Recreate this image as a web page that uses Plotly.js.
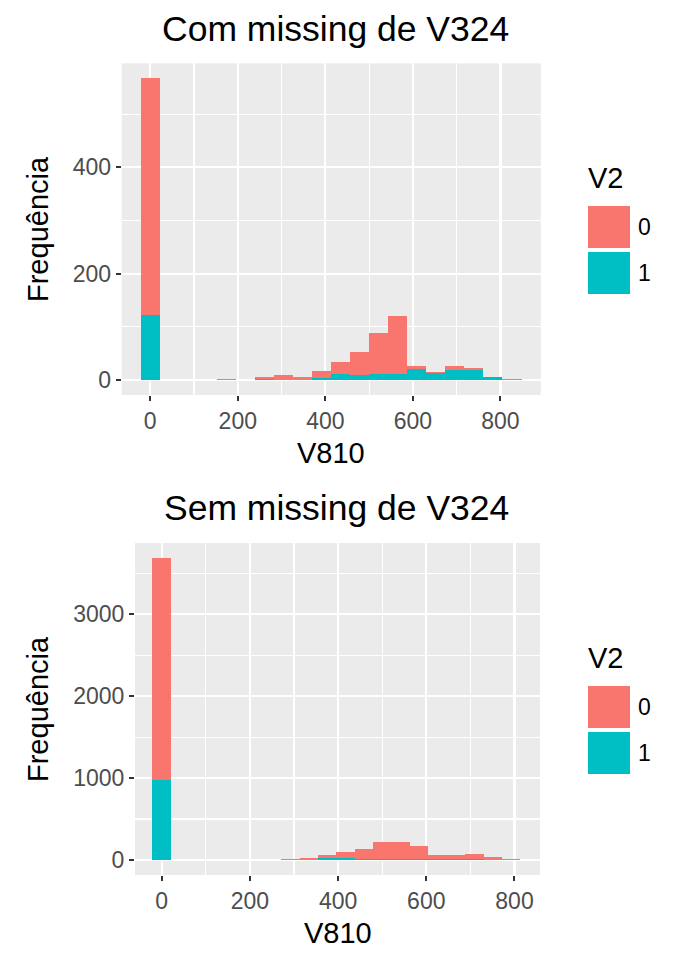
<!DOCTYPE html>
<html>
<head>
<meta charset="utf-8">
<script src="https://cdn.plot.ly/plotly-3.0.1.min.js"></script>
<style>
  html, body { margin: 0; padding: 0; background: #fff; }
  #plot { width: 676px; height: 960px; }
</style>
</head>
<body>
<div id="plot"></div>
<script>
// histogram bins of V810 (centres) and counts per V2 group
const binsTop = [0, 43.5, 87, 130.5, 174, 217.5, 261, 304.5, 348, 391.5, 435, 478.5, 522, 565.5, 609, 652.5, 696, 739.5, 783, 826.5];
const widthTop = 43.5;
const top0 = [444, 0, 0, 0, 1, 0, 3, 9, 6, 13, 23, 43, 77, 109, 5, 2, 7, 3, 0, 1];
const top1 = [123, 0, 0, 0, 0, 0, 2, 0, 0, 4, 11, 9, 11, 11, 21, 13, 19, 19, 5, 0];

const binsBottom = [0, 41.7, 83.4, 125.1, 166.8, 208.5, 250.2, 291.9, 333.6, 375.3, 417, 458.7, 500.4, 542.1, 583.8, 625.5, 667.2, 708.9, 750.6, 792.3];
const widthBottom = 41.7;
const bottom0 = [2711, 0, 0, 0, 5, 3, 2, 13, 21, 35, 62, 116, 206, 206, 157, 49, 49, 65, 28, 8];
const bottom1 = [976, 0, 0, 0, 0, 2, 3, 3, 5, 20, 30, 12, 12, 12, 10, 8, 8, 8, 5, 0];

const groups = ['0', '1'];
const colors = {'0': '#F8766D', '1': '#00BFC4'};
const titles = ['Com missing de V324', 'Sem missing de V324'];

const FONT = 'Liberation Sans, Arial, sans-serif';

function barTrace(x, y, w, g, xa, ya) {
    return {
        type: 'bar', x: x, y: y, width: w, name: g,
        xaxis: xa, yaxis: ya,
        marker: { color: colors[g], line: { width: 0 } },
        showlegend: false,
        hoverinfo: 'x+y+name'
    };
}

// group 1 first so it sits at the bottom of each stack
const data = [
    barTrace(binsTop, top1, widthTop, '1', 'x', 'y'),
    barTrace(binsTop, top0, widthTop, '0', 'x', 'y'),
    barTrace(binsBottom, bottom1, widthBottom, '1', 'x2', 'y2'),
    barTrace(binsBottom, bottom0, widthBottom, '0', 'x2', 'y2')
];

function axis(domain, range, dtick, anchor) {
    return {
        domain: domain, range: range, anchor: anchor,
        dtick: dtick, tick0: 0,
        showgrid: true, gridcolor: '#FFFFFF', gridwidth: 2.2,
        minor: { dtick: dtick / 2, showgrid: true, gridcolor: '#FFFFFF', gridwidth: 1.1 },
        zeroline: false, showline: false,
        ticks: 'outside', ticklen: 5, tickwidth: 2, tickcolor: '#333333',
        tickfont: { family: FONT, size: 23, color: '#4D4D4D' },
        fixedrange: true
    };
}

const layout = {
    width: 676, height: 960,
    margin: { l: 0, r: 0, t: 0, b: 0 },
    paper_bgcolor: '#FFFFFF',
    plot_bgcolor: '#EBEBEB',
    barmode: 'stack',
    bargap: 0,
    showlegend: false,
    xaxis: axis([0.180, 0.800], [-65.3, 892.3], 200, 'y'),
    yaxis: axis([0.5885, 0.934], [-28.35, 595.35], 200, 'x'),
    xaxis2: axis([0.1997, 0.7988], [-60.5, 857.8], 200, 'y2'),
    yaxis2: axis([0.0885, 0.4344], [-184, 3871], 1000, 'x2'),
    annotations: [],
    shapes: []
};

// panel titles, axis titles and the two legends
const panelOffsets = [0, 480];
panelOffsets.forEach((off, i) => {
    const py = v => 1 - (v + off) / 960;
    layout.annotations.push(
        { text: titles[i], x: i === 0 ? 0.4956 : 0.4985, y: py(i === 0 ? 29 : 28), xref: 'paper', yref: 'paper',
          showarrow: false, xanchor: 'center', yanchor: 'middle',
          font: { family: FONT, size: 35.5, color: '#000' } },
        { text: 'V810', x: i === 0 ? 331 / 676 : 338 / 676, y: py(453), xref: 'paper', yref: 'paper',
          showarrow: false, xanchor: 'center', yanchor: 'middle',
          font: { family: FONT, size: 29, color: '#000' } },
        { text: 'Frequência', x: 38 / 676, y: py(229), xref: 'paper', yref: 'paper', textangle: -90,
          showarrow: false, xanchor: 'center', yanchor: 'middle',
          font: { family: FONT, size: 29, color: '#000' } },
        { text: 'V2', x: 586 / 676, y: py(178), xref: 'paper', yref: 'paper',
          showarrow: false, xanchor: 'left', yanchor: 'middle',
          font: { family: FONT, size: 29, color: '#000' } }
    );
    groups.forEach((g, k) => {
        const top = 206 + k * 46;
        layout.shapes.push({
            type: 'rect', xref: 'paper', yref: 'paper',
            x0: 588 / 676, x1: 630 / 676, y0: py(top + 42), y1: py(top),
            fillcolor: colors[g], line: { width: 0 }
        });
        layout.annotations.push({
            text: g, x: 636 / 676, y: py(top + 21), xref: 'paper', yref: 'paper',
            showarrow: false, xanchor: 'left', yanchor: 'middle',
            font: { family: FONT, size: 23, color: '#000' }
        });
    });
});

Plotly.newPlot('plot', data, layout, { displayModeBar: false, staticPlot: true });
</script>
</body>
</html>
